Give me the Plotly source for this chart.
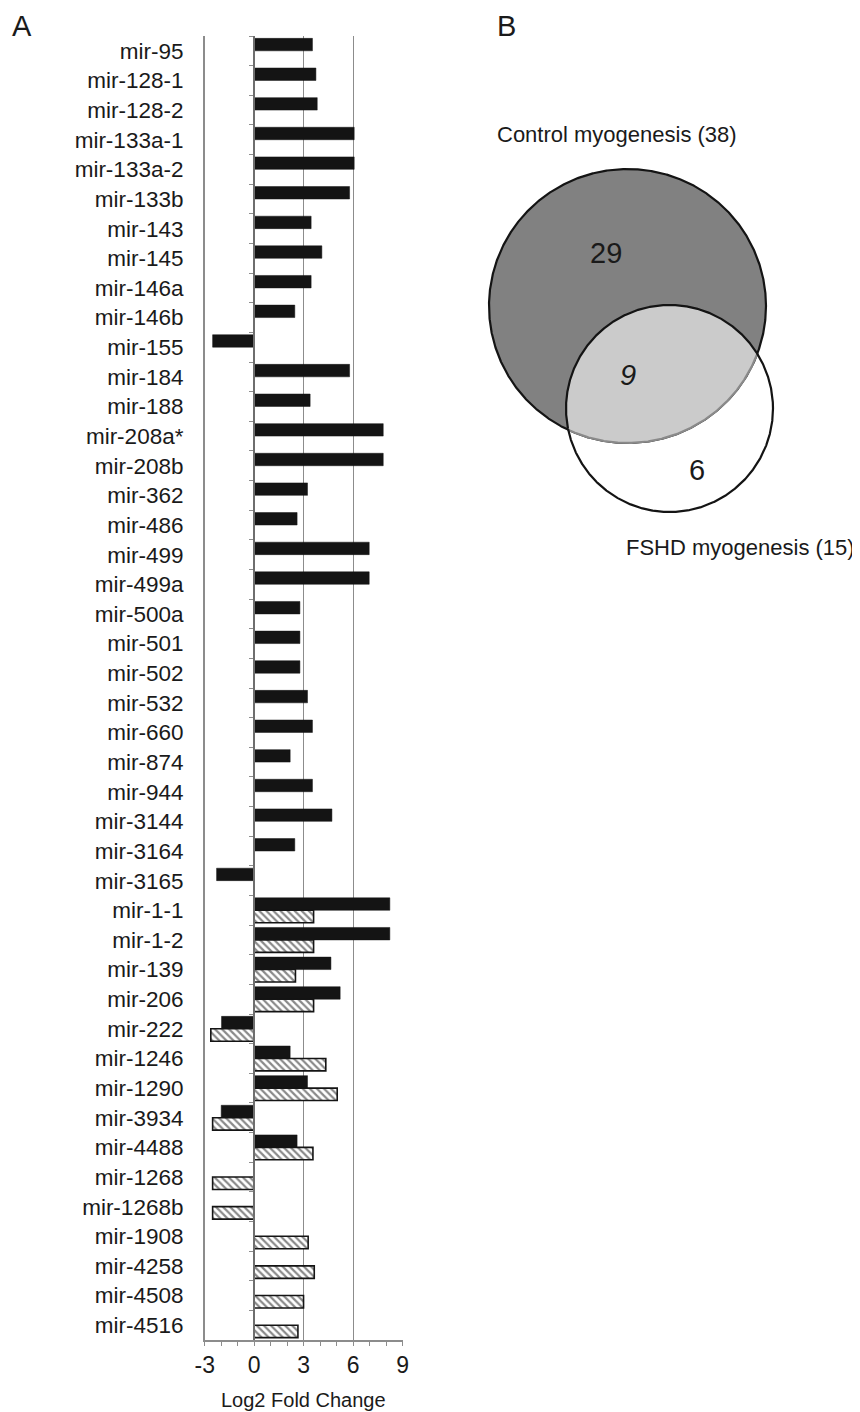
import numpy as np
import plotly.graph_objects as go

# ---------------- data ----------------
mirnas = ["mir-95", "mir-128-1", "mir-128-2", "mir-133a-1", "mir-133a-2", "mir-133b",
          "mir-143", "mir-145", "mir-146a", "mir-146b", "mir-155", "mir-184", "mir-188",
          "mir-208a*", "mir-208b", "mir-362", "mir-486", "mir-499", "mir-499a", "mir-500a",
          "mir-501", "mir-502", "mir-532", "mir-660", "mir-874", "mir-944", "mir-3144",
          "mir-3164", "mir-3165",
          "mir-1-1", "mir-1-2", "mir-139", "mir-206", "mir-222", "mir-1246", "mir-1290",
          "mir-3934", "mir-4488",
          "mir-1268", "mir-1268b", "mir-1908", "mir-4258", "mir-4508", "mir-4516"]

control_lfc = [3.53, 3.74, 3.82, 6.06, 6.06, 5.78, 3.45, 4.10, 3.45, 2.46, -2.52, 5.78, 3.39,
               7.82, 7.82, 3.23, 2.60, 6.97, 6.97, 2.77, 2.77, 2.77, 3.23, 3.53, 2.18, 3.53,
               4.71, 2.46, -2.28,
               8.22, 8.22, 4.65, 5.21, -1.98, 2.18, 3.23, -2.00, 2.60,
               None, None, None, None, None, None]

fshd_lfc = [None, None, None, None, None, None, None, None, None, None, None, None, None,
            None, None, None, None, None, None, None, None, None, None, None, None, None,
            None, None, None,
            3.60, 3.60, 2.50, 3.60, -2.63, 4.34, 5.03, -2.52, 3.56,
            -2.52, -2.52, 3.27, 3.64, 2.99, 2.65]

x_ticks = [-3, 0, 3, 6, 9]

venn_control_only = 29
venn_shared = 9
venn_fshd_only = 6
venn_control_name = "Control myogenesis"
venn_fshd_name = "FSHD myogenesis"

# ---------------- layout geometry ----------------
# the page body has an 8 px margin, so the figure is drawn 8 px smaller and
# every target pixel position is converted with that offset
OFF = 8
W, H = 860 - OFF, 1412 - OFF
FONT = "Liberation Sans, Arial, sans-serif"
TXT = "#1a1a1a"
GRID = "#8c8c8c"


def pxx(x):
    return (x - OFF) / W


def pxy(y):
    return 1 - (y - OFF) / H


px_left, px_right = 204.7, 402.7
px_top, px_bottom = 36, 1340
xdom = [pxx(px_left), pxx(px_right)]
ydom = [pxy(px_bottom), pxy(px_top)]
x_range = [-3, 9]
zero_pos = xdom[0] + (0 - x_range[0]) / (x_range[1] - x_range[0]) * (xdom[1] - xdom[0])
n = len(mirnas)
cat_range = [n - 0.5, -0.5]

fig = go.Figure()

fig.add_trace(go.Bar(
    name="Control myogenesis", x=control_lfc, y=mirnas, orientation="h",
    marker=dict(color="#141414", line=dict(color="#141414", width=0.5)),
    xaxis="x", yaxis="y", showlegend=False,
))
fig.add_trace(go.Bar(
    name="FSHD myogenesis", x=fshd_lfc, y=mirnas, orientation="h",
    marker=dict(color="white", line=dict(color="#141414", width=1.6),
                pattern=dict(shape="\\", fgcolor="#141414", bgcolor="white",
                             size=5, solidity=0.45)),
    xaxis="x", yaxis="y", showlegend=False,
))
# invisible carrier for the category axis drawn at x = 0
fig.add_trace(go.Scatter(
    x=[0 for _ in mirnas], y=mirnas, mode="markers", marker=dict(opacity=0),
    xaxis="x", yaxis="y2", hoverinfo="skip", showlegend=False,
))

# ---------------- Venn diagram ----------------
c1 = (627.5, 306.0, 138.5, 137.0)   # control: cx, cy, rx, ry (target pixel units)
c2 = (669.5, 408.5, 103.5, 103.5)   # FSHD
t = np.linspace(0, 2 * np.pi, 1441)


def ell(c):
    return c[0] + c[2] * np.cos(t), c[1] + c[3] * np.sin(t)


def inside(c, x, y):
    return ((x - c[0]) / c[2]) ** 2 + ((y - c[1]) / c[3]) ** 2 <= 1


bx, by = ell(c1)
sx, sy = ell(c2)
m_b = inside(c2, bx, by)
m_s = inside(c1, sx, sy)
ix = np.concatenate([bx[m_b], sx[m_s]])
iy = np.concatenate([by[m_b], sy[m_s]])
cxm, cym = ix.mean(), iy.mean()
order = np.argsort(np.arctan2(iy - cym, ix - cxm))
ix, iy = ix[order], iy[order]

vkw = dict(xaxis="x2", yaxis="y3", hoverinfo="skip", showlegend=False)
fig.add_trace(go.Scatter(x=bx, y=by, mode="lines", fill="toself", fillcolor="#818181",
                         line=dict(color="#141414", width=2.2), **vkw))
fig.add_trace(go.Scatter(x=np.append(ix, ix[0]), y=np.append(iy, iy[0]), mode="lines",
                         fill="toself", fillcolor="#cbcbcb", line=dict(width=0), **vkw))
fig.add_trace(go.Scatter(x=bx[m_b], y=by[m_b], mode="lines",
                         line=dict(color="#8a8a8a", width=2.2), **vkw))
fig.add_trace(go.Scatter(x=sx, y=sy, mode="lines",
                         line=dict(color="#141414", width=2.2), **vkw))

annotations = [
    dict(text="A", x=pxx(22), y=pxy(8), xref="paper", yref="paper",
         xanchor="center", yanchor="top",
         showarrow=False, font=dict(size=29, color=TXT, family=FONT)),
    dict(text="B", x=pxx(507), y=pxy(8), xref="paper", yref="paper",
         xanchor="center", yanchor="top",
         showarrow=False, font=dict(size=29, color=TXT, family=FONT)),
    dict(text="Log2 Fold Change", x=(x_range[0] + x_range[1]) / 2, y=pxy(1400),
         xref="x", yref="paper", xanchor="center", yanchor="middle", showarrow=False,
         font=dict(size=20, color=TXT, family=FONT)),
    dict(text=f"{venn_control_name} ({venn_control_only + venn_shared})",
         x=495, y=134, xref="x2", yref="y3", xanchor="left", yanchor="middle",
         showarrow=False, font=dict(size=22, color=TXT, family=FONT)),
    dict(text=f"{venn_fshd_name} ({venn_fshd_only + venn_shared})",
         x=857, y=547, xref="x2", yref="y3", xanchor="right", yanchor="middle",
         showarrow=False, font=dict(size=22, color=TXT, family=FONT)),
    dict(text=str(venn_control_only), x=606, y=253, xref="x2", yref="y3",
         xanchor="center", yanchor="middle",
         showarrow=False, font=dict(size=29, color=TXT, family=FONT)),
    dict(text=f"<i>{venn_shared}</i>", x=628, y=375, xref="x2", yref="y3",
         xanchor="center", yanchor="middle",
         showarrow=False, font=dict(size=29, color=TXT, family=FONT)),
    dict(text=str(venn_fshd_only), x=697, y=470, xref="x2", yref="y3",
         xanchor="center", yanchor="middle",
         showarrow=False, font=dict(size=29, color=TXT, family=FONT)),
]

fig.update_layout(
    width=W, height=H, margin=dict(l=0, r=0, t=0, b=0),
    paper_bgcolor="white", plot_bgcolor="white",
    barmode="group", bargap=0.16, bargroupgap=0.0,
    showlegend=False,
    font=dict(family=FONT, color=TXT),
    annotations=annotations,
    xaxis=dict(
        domain=xdom, range=x_range, tickmode="array", tickvals=x_ticks,
        ticktext=[str(v) for v in x_ticks],
        showgrid=True, gridcolor=GRID, gridwidth=1, zeroline=False,
        showline=True, linecolor=GRID, linewidth=1.5,
        ticks="outside", ticklen=4, tickcolor=GRID, tickwidth=1,
        minor=dict(ticks="outside", ticklen=4, tickcolor=GRID, dtick=1, tick0=0, showgrid=False),
        tickfont=dict(size=23, color=TXT, family=FONT),
        anchor="y", automargin=False, fixedrange=True,
    ),
    yaxis=dict(
        domain=ydom, type="category", categoryorder="array", categoryarray=mirnas,
        range=cat_range, showgrid=False, zeroline=False,
        showline=True, linecolor=GRID, linewidth=1.5,
        ticks="", ticklabelstandoff=15,
        tickfont=dict(size=22.5, color=TXT, family=FONT),
        anchor="x", automargin=False, fixedrange=True,
    ),
    yaxis2=dict(
        domain=ydom, type="category", categoryorder="array", categoryarray=mirnas,
        range=cat_range, overlaying="y", anchor="free", position=zero_pos, side="left",
        showgrid=False, zeroline=False, showline=True, linecolor="#6e6e6e", linewidth=1.5,
        ticks="outside", tickson="boundaries", ticklen=4, tickcolor="#8c8c8c",
        showticklabels=False, automargin=False, fixedrange=True,
    ),
    xaxis2=dict(domain=[pxx(470), 1.0], range=[470, 860], visible=False,
                anchor="y3", fixedrange=True),
    yaxis3=dict(domain=[pxy(600), 1.0], range=[600, OFF], visible=False,
                anchor="x2", fixedrange=True),
)

fig.write_html("out.html")
